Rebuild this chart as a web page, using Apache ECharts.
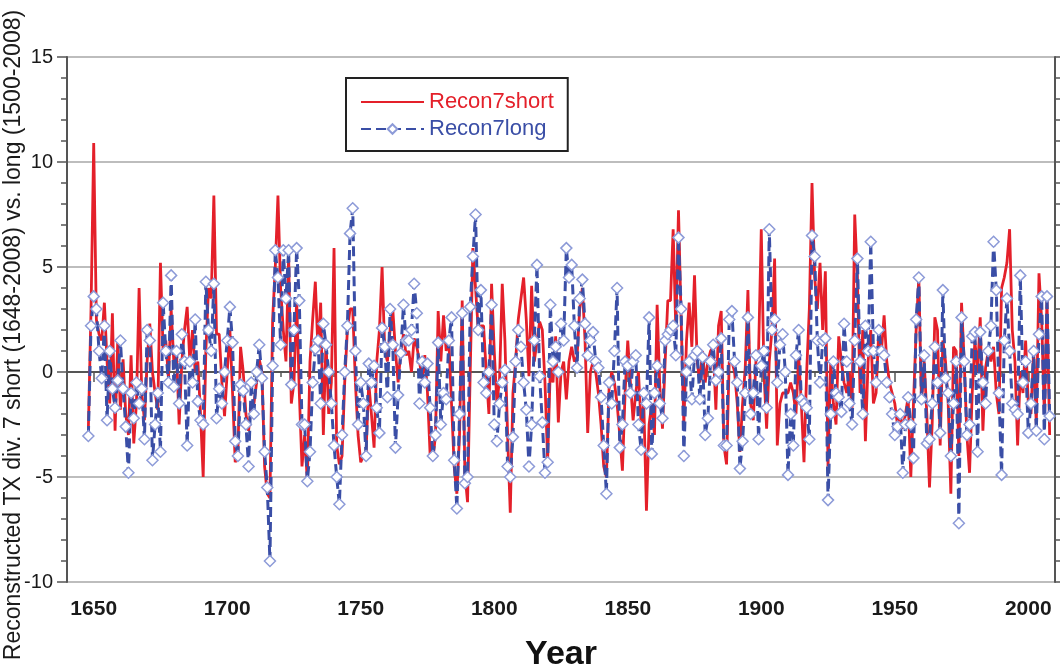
<!DOCTYPE html>
<html>
<head>
<meta charset="utf-8">
<title>Recon7 short vs long</title>
<script src="https://cdn.jsdelivr.net/npm/echarts@6/dist/echarts.min.js"></script>
<style>
  html, body { margin: 0; padding: 0; background: #fff; }
  #chart { width: 1060px; height: 672px; }
</style>
</head>
<body>
<div id="chart"></div>
<script>
// years on the axis (category axis, one per year)
var axisStart = 1640;
var axisEnd = 2010;
var firstYear = 1648;
var yTicks = [-10, -5, 0, 5, 10, 15];

// Recon7short, 1648-2008 (one row per decade)
var shortValues = [
  -2.7, 3.0,
  10.9, 2.5, 1.8, 1.5, 3.3, 0.5, -1.5, 2.8, -2.8, 1.5,
  -1.8, 0.6, -2.0, -3.0, 0.8, -3.4, -1.5, 4.0, -1.0, -2.3,
  0.5, 2.3, 0.0, -1.0, -1.8, 5.2, 1.0, 1.5, -0.3, 3.0,
  0.5, 1.0, -2.5, 0.5, 2.0, 3.1, 0.5, 2.0, 0.0, 0.5,
  -2.0, -5.0, 1.0, 4.0, 3.5, 8.4, 1.8, 1.8, -0.5, -2.1,
  0.0, 2.0, -1.0, -4.3, -3.8, 1.2, 0.0, -2.0, -2.8, -1.5,
  -1.5, -0.5, 0.6, 0.0, -4.5, -5.8, -6.0, 2.5, 5.0, 8.4,
  4.0, 2.0, 0.5, 5.5, -1.5, -0.5, 3.5, -1.0, -4.5, -3.0,
  -5.2, 0.5, 2.5, 4.3, 1.0, 3.3, -3.0, 1.5, -2.0, -0.5,
  5.9, -3.5, -4.4, -4.0, -0.5, 2.0, 3.0, 3.0, -0.5, -3.0,
  -4.3, -4.0, -3.8, -0.5, -2.0, -3.6, 0.5, 2.0, 5.0, 1.0,
  0.5, 2.0, 3.0, 1.0, -0.5, 1.0, 1.8, 0.8, 1.0, 0.0,
  1.6, 1.2, 0.5, -0.3, 0.8, -1.0, -4.0, -4.2, -3.0, 2.9,
  0.5, 2.7, 1.0, 1.5, -1.5, -4.5, -5.8, -3.0, 3.4, -4.8,
  -6.2, 0.0, 5.9, 4.0, 2.0, 2.2, 2.2, 0.0, -2.0, 4.2,
  1.0, -1.5, -0.3, 4.2, 1.5, -3.0, -6.7, -1.0, 0.5, 2.5,
  3.5, 4.5, 2.5, -0.2, 4.1, 0.5, 1.5, 2.4, 2.0, -0.5,
  -4.2, 0.2, -0.5, 1.7, -2.4, 0.0, 0.5, -1.3, 0.5, 1.2,
  0.5, 0.7, 3.0, 4.0, 1.5, -2.9, 0.0, 0.5, 0.0, -1.0,
  -2.5, -4.5, -5.0, -0.8, 0.0, -0.5, -1.5, -3.0, -4.7, -1.0,
  1.5, -0.5, -2.3, -1.0, 0.0, -2.5, -1.5, -6.6, -2.5, -1.5,
  -3.0, 3.2, -0.7, -2.7, 0.5, 3.4, 3.4, 6.8, 2.0, 7.7,
  2.5, -2.5, 1.5, 3.3, 1.2, 4.6, 0.5, -0.5, 1.0, -0.5,
  0.5, 1.0, 1.2, -1.8, 2.2, 2.9, -3.5, -4.4, 0.5, 0.5,
  0.0, -1.5, -3.8, -1.5, 0.2, 3.9, -1.5, -2.3, 0.5, 1.0,
  6.8, 0.0, -2.7, 0.5, 2.0, 5.4, -3.5, -1.5, -1.0, -1.0,
  -1.0, -0.5, -1.0, -2.0, 0.8, -1.5, -4.3, 0.0, 3.0, 9.0,
  4.5, 3.0, 5.2, 2.0, 4.8, -4.5, 0.5, -1.5, -2.5, 1.7,
  0.5, -0.5, -1.0, 0.0, -1.7, 7.5, 4.5, -1.0, 2.0, -3.3,
  0.5, 2.0, -1.5, -1.0, 2.0, 1.0, 2.7, 0.5, -0.5, -1.0,
  -1.5, -2.5, -2.0, -2.7, -2.0, -1.2, -5.0, -1.5, 2.0, 4.5,
  -1.5, 0.5, -2.0, -5.5, -2.5, 2.6, 2.0, -3.5, 1.5, 0.5,
  -1.5, -5.8, 1.2, 1.0, -4.0, 3.3, 0.5, -3.0, -4.8, -1.0,
  1.5, 0.0, 2.6, -2.8, 0.2, 1.0, 0.5, 1.2, -1.0, -2.0,
  4.0, 4.5, 5.2, 6.8, 2.0, 0.5, -3.5, 0.0, -1.0, 1.5,
  -1.5, -2.0, 1.0, -2.5, 4.7, 2.5, -2.0, 3.5, -3.0
];

// Recon7long, 1648-2008 (one row per decade)
var longValues = [
  -3.05, 2.2,
  3.6, 3.0, 1.0, -0.3, 2.2, -2.3, 1.0, -0.8, -1.7, -0.4,
  1.5, -0.8, -2.6, -4.8, -1.0, -2.2, -0.5, -1.5, -0.8, -3.2,
  2.0, 1.5, -4.2, -2.5, -1.0, -3.8, 3.3, 1.0, -0.5, 4.6,
  -0.7, 1.0, -1.5, 1.8, 0.5, -3.5, 0.5, -0.5, 2.5, -1.4,
  -2.3, -2.5, 4.3, 2.0, 1.0, 4.2, -2.2, -0.8, -1.5, 0.0,
  1.5, 3.1, 1.4, -3.3, -4.0, -0.6, -0.9, -2.5, -4.5, -0.5,
  -2.0, 0.0, 1.3, -0.3, -3.8, -5.5, -9.0, 0.3, 5.8, 4.5,
  1.3, 5.8, 3.5, 5.8, -0.6, 2.0, 5.9, 3.4, -2.5, -2.5,
  -5.2, -3.8, -0.5, 1.1, 1.5, -1.5, 2.3, 1.3, 0.0, -1.5,
  -3.5, -5.0, -6.3, -3.0, 0.0, 2.2, 6.6, 7.8, 1.0, -2.5,
  -0.5, -1.5, -4.0, 0.4, -0.5, 0.3, -1.7, -2.9, 2.1, 1.2,
  -1.2, 3.0, 1.3, -3.6, -1.1, 0.9, 3.2, 1.5, 1.5, 2.0,
  4.2, 2.8, -1.5, 0.5, -0.5, 0.4, -1.7, -4.0, -3.0, 1.4,
  -2.5, -1.0, -1.3, 1.5, 2.6, -4.2, -6.5, -2.0, 2.8, -5.3,
  -5.0, 3.1, 5.5, 7.5, 2.0, 3.9, -0.5, -1.0, 0.0, 3.2,
  -2.5, -3.3, -1.5, -0.5, 0.1, -4.5, -5.0, -3.1, 0.5, 2.0,
  1.2, -0.5, -1.8, -4.5, -2.5, 1.5, 5.1, -0.2, -2.4, -4.8,
  -4.3, 3.2, 0.5, 1.2, 0.0, 2.3, 1.5, 5.9, 4.5, 5.1,
  2.2, 0.2, 3.5, 4.4, 2.3, 0.8, 1.5, 1.9, 0.5, 0.2,
  -1.2, -3.5, -5.8, -0.5, -1.5, 1.0, 4.0, -3.6, -2.5, 0.5,
  0.3, -1.0, 0.5, 0.8, -2.5, -3.7, -1.0, -1.5, 2.6, -3.9,
  -1.0, 0.3, -1.5, -2.2, 1.5, 1.8, 2.0, 2.2, 0.8, 6.4,
  3.0, -4.0, 0.0, 0.5, -1.3, 0.8, 1.0, -1.3, 0.7, -3.0,
  -2.2, 0.5, 1.3, -0.4, 0.0, 1.6, -3.5, -3.5, 2.5, 2.9,
  0.5, -0.5, -4.6, -3.3, -1.0, 2.6, -2.0, -1.0, 0.8, -3.2,
  0.3, 1.0, -1.7, 6.8, 2.0, 2.5, -0.5, 1.3, 1.8, 0.0,
  -4.9, -2.0, -3.5, 0.8, 2.0, -1.3, -1.5, -1.7, -3.2, 6.5,
  5.5, 1.5, -0.5, 1.5, 1.6, -6.1, -2.0, 0.5, -1.0, -1.2,
  -1.9, 2.3, 0.5, -1.5, -2.5, 1.5, 5.4, 0.5, -2.0, 2.2,
  1.0, 6.2, 1.0, -0.5, 2.0, 1.0, 0.8, -0.5, -1.2, -2.0,
  -3.0, -2.6, -2.0, -4.8, -2.5, -1.2, -2.5, -4.1, 2.5, 4.5,
  -1.3, 0.8, -3.4, -3.2, -1.5, 1.2, -0.5, -2.9, 3.9, -0.3,
  -1.0, -4.0, -1.5, 0.5, -7.2, 2.6, 0.5, -3.0, -2.5, 1.7,
  1.9, -3.8, 1.9, -0.5, -1.5, 1.0, 2.2, 6.2, 3.9, -1.0,
  -4.9, 1.5, 3.5, 1.0, -1.5, -1.8, -2.0, 4.6, -0.5, 0.5,
  -2.9, -1.5, 1.0, -2.8, 1.8, 3.6, -3.2, 3.6, -2.1
];

var axisYears = [];
for (var y = axisStart; y <= axisEnd; y++) {
  axisYears.push(String(y));
}

function toPairs(values) {
  return values.map(function (v, i) {
    return [String(firstYear + i), v];
  });
}

var font = '"Liberation Sans", Arial, Helvetica, sans-serif';
var axisColor = '#555';
var red = '#e4202a';
var blue = '#3a4ea6';
var yTitle = 'Reconstructed TX div. 7 short (1648-2008) vs. long (1500-2008)';

var myChart = echarts.init(document.getElementById('chart'), null, { renderer: 'canvas' });

var option = {
  backgroundColor: '#fff',
  animation: false,
  textStyle: { fontFamily: font },
  grid: { left: 67, right: 5, top: 57, bottom: 90, outerBoundsMode: 'none', containLabel: false },
  // rotated y-axis title, placed by hand so it spans the page like the original
  graphic: [{
    type: 'text',
    x: 14,
    y: 335,
    rotation: Math.PI / 2,
    style: {
      text: yTitle,
      fontSize: 23,
      fontFamily: font,
      fill: '#1a1a1a',
      align: 'center',
      verticalAlign: 'middle'
    }
  }],
  legend: {
    orient: 'vertical',
    left: 346,
    top: 78,
    padding: [13, 14, 11, 14],
    itemGap: 5,
    itemWidth: 63,
    itemHeight: 12,
    borderColor: '#222',
    borderWidth: 2,
    backgroundColor: '#fff',
    textStyle: { fontSize: 22, fontFamily: font },
    data: [
      { name: 'Recon7short', textStyle: { color: red },
        itemStyle: { color: 'rgba(0,0,0,0)', borderWidth: 0, opacity: 0 } },
      { name: 'Recon7long', textStyle: { color: blue } }
    ]
  },
  xAxis: [{
    type: 'category',
    data: axisYears,
    boundaryGap: false,
    name: 'Year',
    nameLocation: 'middle',
    nameGap: 56,
    nameTextStyle: { fontSize: 34, fontWeight: 'bold', color: '#111', fontFamily: font },
    axisLine: { lineStyle: { color: axisColor, width: 2 } },
    axisTick: {
      length: 5,
      lineStyle: { color: axisColor, width: 1.5 },
      interval: function (index, value) { return Number(value) % 10 === 0; }
    },
    axisLabel: {
      margin: 17,
      fontSize: 21,
      fontWeight: 'bold',
      color: '#1a1a1a',
      interval: function (index, value) { return Number(value) % 50 === 0; }
    },
    splitLine: { show: false }
  }, {
    // longer ticks at every 50 years
    type: 'category',
    data: axisYears,
    boundaryGap: false,
    position: 'bottom',
    axisLine: { show: false },
    axisTick: {
      length: 10,
      lineStyle: { color: axisColor, width: 1.5 },
      interval: function (index, value) { return Number(value) % 50 === 0; }
    },
    axisLabel: { show: false },
    splitLine: { show: false }
  }],
  yAxis: [{
    type: 'value',
    min: yTicks[0],
    max: yTicks[yTicks.length - 1],
    interval: 5,
    axisLine: { show: true, lineStyle: { color: axisColor, width: 2 } },
    axisTick: { show: true, length: 10, lineStyle: { color: axisColor, width: 1.5 } },
    minorTick: { show: true, splitNumber: 5, length: 6, lineStyle: { color: axisColor, width: 1.5 } },
    axisLabel: { margin: 14, fontSize: 20, color: '#1a1a1a' },
    splitLine: {
      show: true,
      lineStyle: { color: ['#bdbdbd', '#bdbdbd', '#8a8a8a', '#bdbdbd', '#bdbdbd', '#bdbdbd'], width: 2 }
    }
  }, {
    type: 'value',
    position: 'right',
    min: yTicks[0],
    max: yTicks[yTicks.length - 1],
    interval: 5,
    axisLine: { show: true, lineStyle: { color: axisColor, width: 2 } },
    axisTick: { show: true, length: 6, lineStyle: { color: axisColor, width: 1.5 } },
    minorTick: { show: true, splitNumber: 5, length: 6, lineStyle: { color: axisColor, width: 1.5 } },
    axisLabel: { show: false },
    splitLine: { show: false }
  }],
  series: [{
    name: 'Recon7short',
    type: 'line',
    data: toPairs(shortValues),
    symbol: 'none',
    showSymbol: false,
    color: red,
    lineStyle: { color: red, width: 2.8 },
    z: 2
  }, {
    name: 'Recon7long',
    type: 'line',
    data: toPairs(longValues),
    symbol: 'diamond',
    symbolSize: 11,
    showAllSymbol: true,
    color: blue,
    lineStyle: { color: blue, width: 3, type: [10, 5] },
    itemStyle: { color: '#fff', borderColor: '#8d9bd8', borderWidth: 1.5 },
    z: 3
  }]
};

myChart.setOption(option);
</script>
</body>
</html>
